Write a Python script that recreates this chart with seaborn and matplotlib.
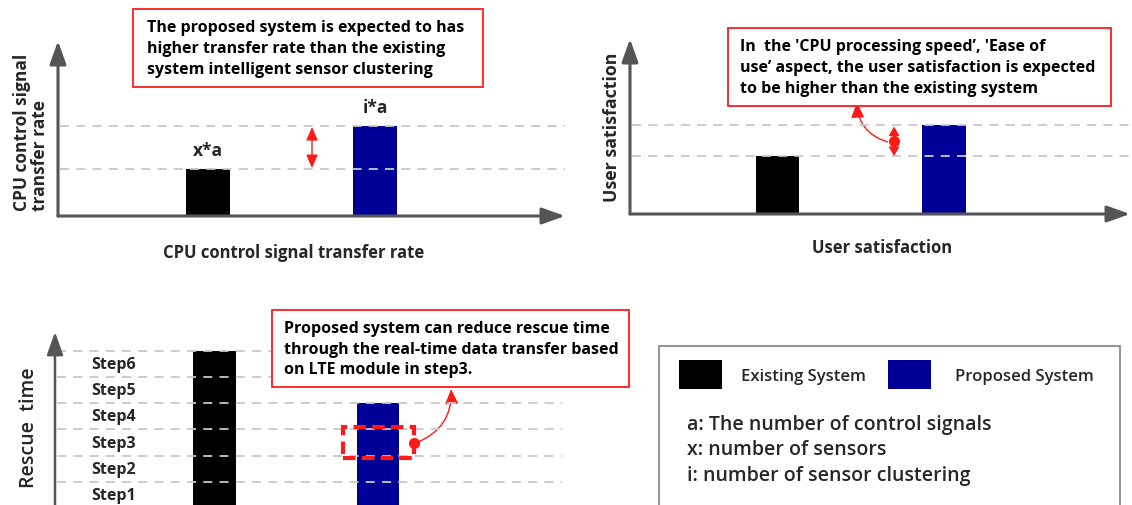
import matplotlib
matplotlib.use("Agg")
import matplotlib.pyplot as plt
import matplotlib.patches as mpatches
import seaborn as sns

# ------------------------------------------------------------------
# data
# ------------------------------------------------------------------
systems = ["Existing System", "Proposed System"]
bar_colors = ["#000000", "#000099"]

transfer_rate = [1.0, 1.91]          # x*a , i*a (relative)
transfer_labels = ["x*a", "i*a"]
satisfaction = [1.0, 1.53]
rescue_steps = [6, 4]
step_labels = ["Step1", "Step2", "Step3", "Step4", "Step5", "Step6"]

note_rate = ("The proposed system is expected to has\n"
             "higher transfer rate than the existing\n"
             "system intelligent sensor clustering")
note_satisfaction = ("In  the 'CPU processing speed\u2019, 'Ease of\n"
                     "use\u2019 aspect, the user satisfaction is expected\n"
                     "to be higher than the existing system")
note_rescue = ("Proposed system can reduce rescue time\n"
               "through the real-time data transfer based\n"
               "on LTE module in step3.")
legend_notes = ["a: The number of control signals",
                "x: number of sensors",
                "i: number of sensor clustering"]

sns.set_theme(style="white")
plt.rcParams['font.family'] = ['Open Sans', 'DejaVu Sans']

W, H = 1132, 506
AXIS_GREY = "#555555"
GRID_GREY = "#c8c8c8"
RED = "#ff1a1a"


def fig_rect(left, top, right, bottom):
    return [left / W, 1 - bottom / H, (right - left) / W, (bottom - top) / H]


def px(x, y):
    return x / W, 1 - y / H


def axis_arrow(ax, start, end, lw=2.2):
    ax.annotate("", xy=end, xytext=start, xycoords="axes fraction",
                arrowprops=dict(arrowstyle="-|>,head_length=0.7,head_width=0.25",
                                mutation_scale=20, lw=lw, color=AXIS_GREY,
                                shrinkA=0, shrinkB=0), zorder=5)


def bar_panel(ax, values, xlim, ylim, levels):
    sns.barplot(x=systems, y=values, hue=systems, palette=bar_colors,
                saturation=1, width=0.26, linewidth=0, legend=False, ax=ax)
    ax.set_xlim(*xlim)
    ax.set_ylim(*ylim)
    ax.axis("off")
    ax.hlines(levels, xlim[0] + 0.01, xlim[1], colors=GRID_GREY,
              linestyles=(0, (5, 4)), lw=1.3, zorder=4, clip_on=False)


def note_box(fig, left, top, right, bottom, text, tx):
    fig.add_artist(mpatches.Rectangle(px(left, bottom), (right - left) / W,
                                      (bottom - top) / H, transform=fig.transFigure,
                                      facecolor="white", edgecolor=RED, lw=1.3))
    fig.text(*px(tx, (top + bottom) / 2), text, ha="left", va="center", fontsize=11.5,
             fontweight="bold", linespacing=1.38, color="black")


fig = plt.figure(figsize=(W / 100, H / 100), dpi=100)

# ------------------------------------------------------------------
# panel 1: CPU control signal transfer rate
# ------------------------------------------------------------------
ax1 = fig.add_axes(fig_rect(58, 42, 565, 217))
bar_panel(ax1, transfer_rate, (-0.898, 2.138), (0, 3.72), transfer_rate)
axis_arrow(ax1, (0, 0), (0, 1))
axis_arrow(ax1, (0, 0), (1, 0))
for i, (v, lab) in enumerate(zip(transfer_rate, transfer_labels)):
    ax1.annotate(lab, (i, v), xytext=(0, 7), textcoords="offset points",
                 ha="center", va="bottom", fontsize=12.5, fontweight="bold")
ax1.annotate("", xy=(0.623, transfer_rate[1] - 0.02), xytext=(0.623, transfer_rate[0] + 0.02),
             arrowprops=dict(arrowstyle="<|-|>,head_length=0.8,head_width=0.35",
                             mutation_scale=10, lw=1, color=RED, shrinkA=0, shrinkB=0))
ax1.text(-0.053, 0.486, "CPU control signal\ntransfer rate", transform=ax1.transAxes,
         rotation=90, ha="center", va="center", multialignment="left",
         fontsize=12.5, fontweight="bold", linespacing=1.05)
ax1.text(0.465, -0.206, "CPU control signal transfer rate", transform=ax1.transAxes,
         ha="center", va="center", fontsize=12, fontweight="bold")

# ------------------------------------------------------------------
# panel 2: user satisfaction
# ------------------------------------------------------------------
ax2 = fig.add_axes(fig_rect(630, 40, 1130, 215))
bar_panel(ax2, satisfaction, (-0.886, 2.117), (0, 3.02), satisfaction)
axis_arrow(ax2, (0, 0), (0, 1))
axis_arrow(ax2, (0, 0), (1, 0))
ax2.annotate("", xy=(0.70, satisfaction[1] - 0.02), xytext=(0.70, satisfaction[0]),
             arrowprops=dict(arrowstyle="<|-|>,head_length=0.55,head_width=0.32",
                             mutation_scale=10, lw=1, color=RED, shrinkA=0, shrinkB=0))
mid = (satisfaction[0] + satisfaction[1]) / 2
ax2.plot([0.70], [mid], "o", color=RED, ms=7, zorder=6)
ax2.annotate("", xy=(0.477, 1.92), xytext=(0.66, mid - 0.02),
             arrowprops=dict(arrowstyle="-|>,head_length=0.9,head_width=0.4",
                             mutation_scale=10, lw=1, color=RED, shrinkA=0, shrinkB=0,
                             connectionstyle="arc3,rad=-0.35"), annotation_clip=False)
ax2.text(-0.036, 0.5, "User satisfaction", transform=ax2.transAxes, rotation=90,
         ha="center", va="center", fontsize=12.8, fontweight="bold")
ax2.text(0.504, -0.189, "User satisfaction", transform=ax2.transAxes,
         ha="center", va="center", fontsize=12, fontweight="bold")

# ------------------------------------------------------------------
# panel 3: rescue time
# ------------------------------------------------------------------
ax3 = fig.add_axes(fig_rect(55, 333, 562, 509))
levels = list(range(1, len(step_labels) + 1))
bar_panel(ax3, rescue_steps, (-0.979, 2.13), (0, 6.72), levels)
axis_arrow(ax3, (0, 0), (0, 1), lw=1.8)
for k, lab in zip(levels, step_labels):
    ax3.text(-0.617, k - 0.5, lab, ha="center", va="center",
             fontsize=11.5, fontweight="bold")
ax3.add_patch(mpatches.Rectangle((0.788, 1.91), 0.436, 1.18, fill=False,
                                 edgecolor=RED, lw=3, linestyle=(0, (3, 1.5)), zorder=6))
ax3.plot([1.224], [2.48], "o", color=RED, ms=7, zorder=7)
ax3.annotate("", xy=(1.45, 4.54), xytext=(1.24, 2.5),
             arrowprops=dict(arrowstyle="-|>,head_length=0.9,head_width=0.4",
                             mutation_scale=10, lw=1, color=RED, shrinkA=0, shrinkB=0,
                             connectionstyle="arc3,rad=0.35"), annotation_clip=False)
ax3.text(-0.051, 0.46, "Rescue  time", transform=ax3.transAxes, rotation=90,
         ha="center", va="center", fontsize=14, fontweight="semibold")

# ------------------------------------------------------------------
# notes and legend
# ------------------------------------------------------------------
note_box(fig, 133, 10, 483, 88, note_rate, 147)
note_box(fig, 728, 29, 1111, 107, note_satisfaction, 740)
note_box(fig, 272, 311, 629, 388, note_rescue, 284)

fig.add_artist(mpatches.Rectangle(px(659, 510), 461 / W, 163 / H, transform=fig.transFigure,
                                  facecolor="white", edgecolor="#808080", lw=1.2))
swatch_x = [679, 888]
text_x = [741, 955]
for sx, tx, c, name in zip(swatch_x, text_x, bar_colors, systems):
    fig.add_artist(mpatches.Rectangle(px(sx, 390), 43 / W, 29 / H, transform=fig.transFigure,
                                      facecolor=c, edgecolor="none"))
    fig.text(*px(tx, 377), name, ha="left", va="center", fontsize=12, fontweight="semibold")
for j, line in enumerate(legend_notes):
    fig.text(*px(687, 425 + 25.5 * j), line, ha="left", va="center", fontsize=14,
             fontweight="semibold")

fig.savefig("out.png", dpi=100)
